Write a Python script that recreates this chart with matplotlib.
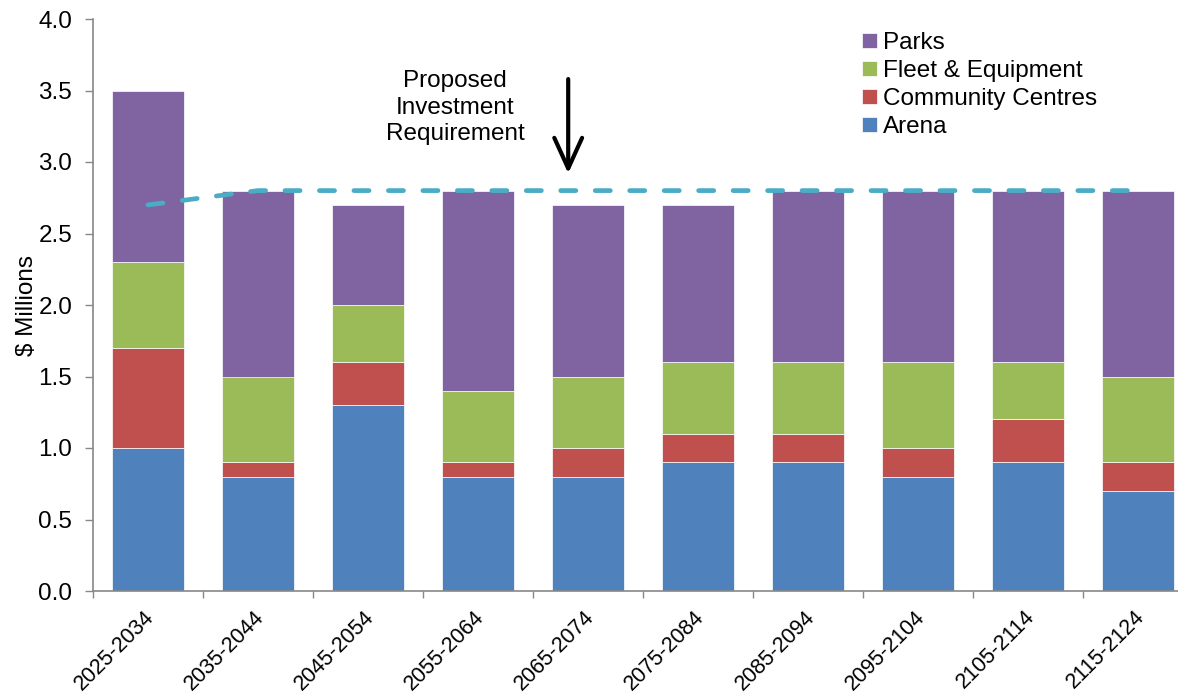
import matplotlib
matplotlib.use("Agg")
import matplotlib.pyplot as plt
import matplotlib.transforms as mtransforms
import numpy as np

periods = ["2025-2034", "2035-2044", "2045-2054", "2055-2064", "2065-2074",
           "2075-2084", "2085-2094", "2095-2104", "2105-2114", "2115-2124"]
arena = [1.0, 0.8, 1.3, 0.8, 0.8, 0.9, 0.9, 0.8, 0.9, 0.7]
community_centres = [0.7, 0.1, 0.3, 0.1, 0.2, 0.2, 0.2, 0.2, 0.3, 0.2]
fleet_equipment = [0.6, 0.6, 0.4, 0.5, 0.5, 0.5, 0.5, 0.6, 0.4, 0.6]
parks = [1.2, 1.3, 0.7, 1.4, 1.2, 1.1, 1.2, 1.2, 1.2, 1.3]
investment_requirement = [2.7, 2.8, 2.8, 2.8, 2.8, 2.8, 2.8, 2.8, 2.8, 2.8]

plt.rcParams["font.family"] = ["Liberation Sans", "DejaVu Sans"]
FS = 17.5

fig = plt.figure(figsize=(11.78, 6.94), dpi=100)
ax = fig.add_axes([93 / 1178, 103 / 694, 1100 / 1178, 572 / 694])

x = np.arange(len(periods))
width = 0.66
series = [
    ("Arena", arena, "#4F81BD"),
    ("Community Centres", community_centres, "#C0504D"),
    ("Fleet & Equipment", fleet_equipment, "#9BBB59"),
    ("Parks", parks, "#8064A2"),
]
bottom = np.zeros(len(periods))
handles = []
for name, vals, color in series:
    b = ax.bar(x, vals, width, bottom=bottom, color=color, edgecolor="white",
               linewidth=0.5, label=name)
    handles.append(b)
    bottom += np.array(vals)

ax.plot(x, investment_requirement, color="#4BACC6", linewidth=3.4,
        linestyle=(0, (3.2, 4.1)), dash_capstyle="round")

ax.set_xlim(-0.5, len(periods) - 0.5)
ax.set_ylim(0, 4.0)
yt = np.arange(0, 4.01, 0.5)
ax.set_yticks(yt)
ax.set_yticklabels([f"{v:.1f}" for v in yt], fontsize=FS)
ax.set_ylabel("$ Millions", fontsize=FS, labelpad=0)

ax.set_xticks(x)
ax.set_xticklabels(periods, rotation=45, ha="right", va="top",
                   rotation_mode="anchor", fontsize=15.5)
ax.tick_params(axis="x", which="major", length=0, pad=11)
shift = mtransforms.ScaledTranslation(-4 / 100, 0, fig.dpi_scale_trans)
for lbl in ax.get_xticklabels():
    lbl.set_transform(lbl.get_transform() + shift)
ax.set_xticks(np.arange(-0.5, len(periods)), minor=True)
ax.tick_params(axis="x", which="minor", length=5, color="#888888", width=1)
ax.tick_params(axis="y", length=6, color="#888888", width=1, pad=9)

for s in ["top", "right"]:
    ax.spines[s].set_visible(False)
for s in ["left", "bottom"]:
    ax.spines[s].set_color("#888888")
    ax.spines[s].set_linewidth(1.2)

ax.annotate("", xy=(3.82, 2.92), xytext=(3.82, 3.58),
            arrowprops=dict(arrowstyle="->,head_length=1.1,head_width=0.5",
                            color="black", lw=3, mutation_scale=20,
                            shrinkA=0, shrinkB=0))
ax.text(2.79, 3.38, "Proposed\nInvestment\nRequirement", ha="center",
        va="center", fontsize=FS, linespacing=1.27)

leg = ax.legend(handles=handles[::-1], loc="upper left",
                bbox_to_anchor=(862 / 1178, 1 - 32 / 694),
                bbox_transform=fig.transFigure, frameon=False, fontsize=FS,
                handlelength=0.6, handleheight=0.6, handletextpad=0.25,
                labelspacing=0.25, borderpad=0, borderaxespad=0)

fig.savefig("out.png", dpi=100)
